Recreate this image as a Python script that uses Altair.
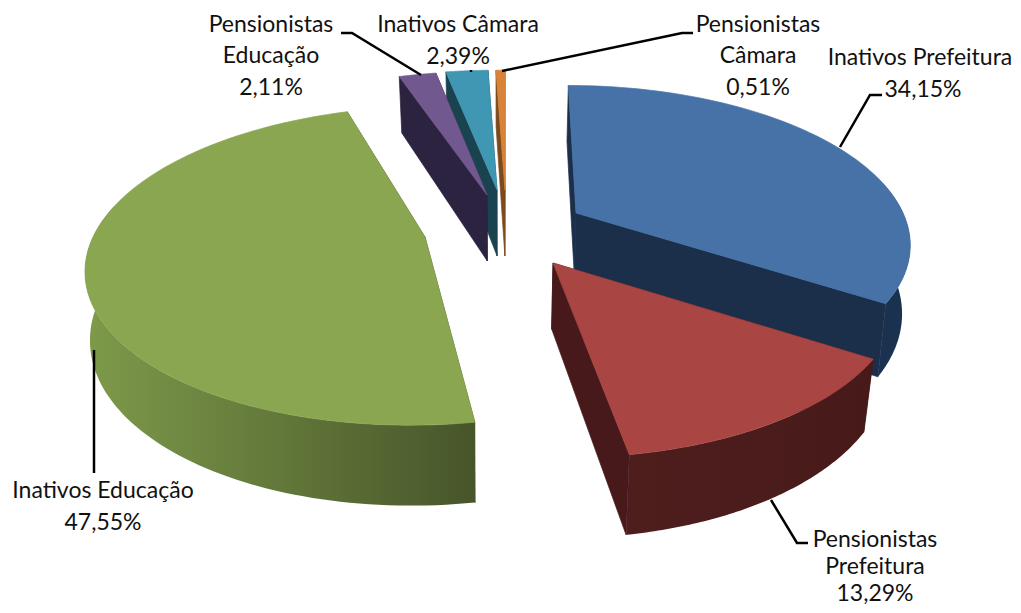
import math
import altair as alt

CATEGORIES = ["Inativos Prefeitura", "Pensionistas Prefeitura", "Inativos Educação",
              "Pensionistas Educação", "Inativos Câmara", "Pensionistas Câmara"]
SHARES = [34.15, 13.29, 47.55, 2.11, 2.39, 0.51]
VALUE_LABELS = ["34,15%", "13,29%", "47,55%", "2,11%", "2,39%", "0,51%"]

TOP = ["#4672A8", "#A94644", "#8AA650", "#71588F", "#3F97B4", "#D98339"]
SIDE = ["#1B2F4A", "#47191A", "#4A582A", "#2C2340", "#1A4350", "#7C4A1C"]
WALL_LEFT = ["#1B3150", "#4E1E1D", "#7E9A4A", "#2C2340", "#1A4350", "#8A5220"]
WALL_RIGHT = ["#1B3150", "#471A19", "#47552A", "#2C2340", "#1A4350", "#8A5220"]

# projection of the tilted pie
R, T, K, H, XC = 332.0, 152.0, 0.18, 66.0, 500.0
VISIBLE_WALL = (78.0, 282.0)
#        apex x, y, R scale, T scale, shear, squeeze of the lower edge
LAYOUT = [(576, 213, 0.985, 0.99, 0.06, 0.98),
          (553, 263, 1.02, 1.05, 0.054, 0.975),
          (425, 237, 1.00, 1.015, -0.08, 0.988),
          (487, 195, 1.00, 0.96, 0.0, 0.975),
          (497, 190, 1.00, 0.93, 0.0, 0.975),
          (505, 190, 1.00, 0.93, 0.0, 0.975)]
DRAW_ORDER = [5, 4, 3, 0, 2, 1]


def top_pt(i, deg):
    ax, ay, rs, ts, shear, _ = LAYOUT[i]
    t = math.radians(deg)
    u, v = math.sin(t), math.cos(t)
    s = 1 / (1 + K * v)
    dy = -T * ts * s * v
    return (ax + R * rs * s * u + shear * dy, ay + dy, s)


def bottom(i, p):
    x, y, s = p
    return (XC + (x - XC) * LAYOUT[i][5], y + H * s)


def xy(p):
    return [round(p[0], 2), round(p[1], 2)]


def poly(points, fill):
    ring = [xy(p) for p in points]
    ring.append(ring[0])
    return {"type": "Feature", "properties": {"fill": fill},
            "geometry": {"type": "Polygon", "coordinates": [ring]}}


proj = dict(type="identity", scale=1, translate=[-8, -8])


def solid(features):
    return alt.Chart(alt.Data(values=features)).mark_geoshape(strokeWidth=0.7).encode(
        fill=alt.Fill("properties.fill:N", scale=None),
        stroke=alt.Stroke("properties.fill:N", scale=None),
    ).project(**proj)


starts = []
acc = 0.0
for sh in SHARES:
    starts.append(acc)
    acc += sh * 3.6

layers = []
for i in DRAW_ORDER:
    a0 = starts[i]
    a1 = a0 + SHARES[i] * 3.6
    ax, ay = LAYOUT[i][:2]
    apex = (ax, ay, 1.0)
    p0, p1 = top_pt(i, a0), top_pt(i, a1)
    layers.append(solid([poly([apex, p, bottom(i, p), bottom(i, apex)], SIDE[i]) for p in (p0, p1)]))
    w0, w1 = max(a0, VISIBLE_WALL[0]), min(a1, VISIBLE_WALL[1])
    if w1 > w0:
        warc = [top_pt(i, w0 + (w1 - w0) * j / 80) for j in range(81)]
        wall = poly(warc + [bottom(i, p) for p in reversed(warc)], WALL_LEFT[i])
        layers.append(
            alt.Chart(alt.Data(values=[wall])).mark_geoshape(
                strokeWidth=0,
                fill=alt.Gradient(
                    gradient="linear", x1=0, x2=1, y1=0, y2=0,
                    stops=[alt.GradientStop(color=WALL_LEFT[i], offset=0),
                           alt.GradientStop(color=WALL_RIGHT[i], offset=1)],
                ),
            ).project(**proj)
        )
    arc = [top_pt(i, a0 + (a1 - a0) * j / 80) for j in range(81)]
    layers.append(solid([poly([apex] + arc, TOP[i])]))

# leader routes
LEADERS = [
    [[840, 147], [870, 95], [882, 95]],
    [[771, 500], [797, 543], [808, 543]],
    [[94, 350], [94, 473]],
    [[421, 75], [352, 33], [341, 33]],
    [[471, 70], [471, 72]],
    [[502, 71], [682, 33], [693, 33]],
]
leader_feats = [{"type": "Feature", "properties": {},
                 "geometry": {"type": "LineString", "coordinates": l}} for l in LEADERS]

# text rows: line, centre x, baseline y
LABEL_LINES = [
    ("Inativos Prefeitura", 920, 65), (VALUE_LABELS[0], 923, 97),
    ("Pensionistas", 875, 547), ("Prefeitura", 875, 574), (VALUE_LABELS[1], 875, 601),
    ("Inativos Educação", 103, 498), (VALUE_LABELS[2], 103, 530),
    ("Pensionistas", 271, 32), ("Educação", 271, 63), (VALUE_LABELS[3], 271, 95),
    ("Inativos Câmara", 458, 32), (VALUE_LABELS[4], 458, 64),
    ("Pensionistas", 758, 32), ("Câmara", 758, 63), (VALUE_LABELS[5], 758, 95),
]
rows = [{"t": t, "lon": x, "lat": y} for t, x, y in LABEL_LINES]

lead = alt.Chart(alt.Data(values=leader_feats)).mark_geoshape(
    filled=False, stroke="#000000", strokeWidth=2.5).project(**proj)

text = alt.Chart(alt.Data(values=rows)).mark_text(
    font="Lato", fontSize=23, color="#111111", align="center", baseline="alphabetic"
).encode(longitude="lon:Q", latitude="lat:Q", text="t:N").project(**proj)

chart = alt.layer(*layers, lead, text).properties(
    width=1005, height=597, padding=0, autosize=alt.AutoSizeParams(type="none")
).configure_view(stroke=None)

chart.save("out.html", embed_options={"renderer": "svg", "actions": False})
